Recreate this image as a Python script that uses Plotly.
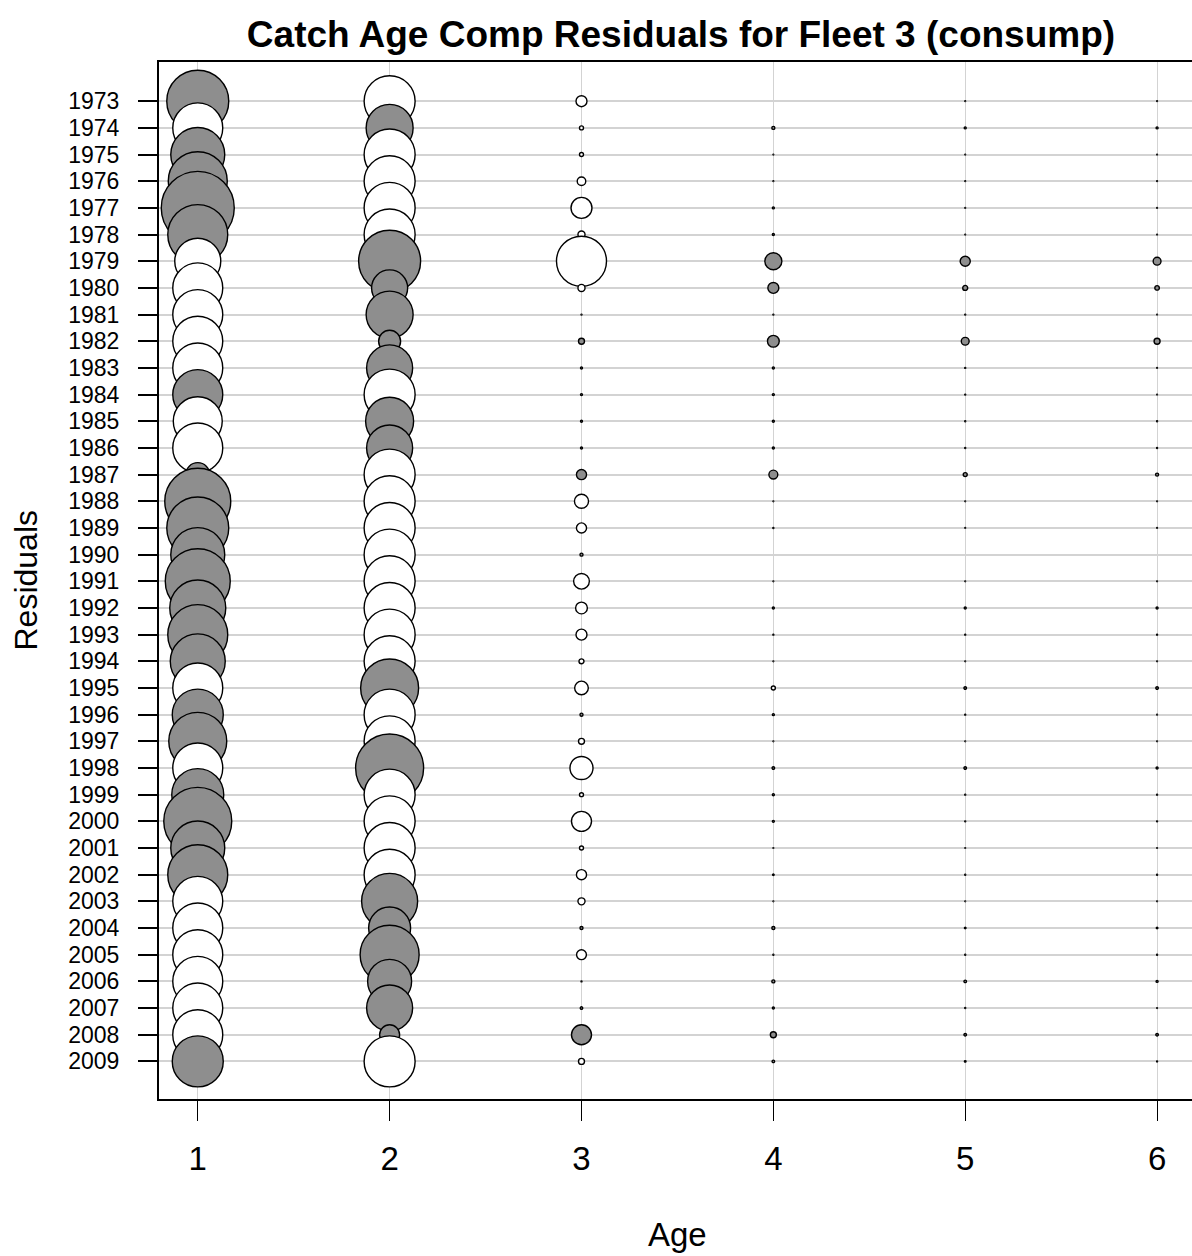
import numpy as np
import plotly.graph_objects as go

# Pearson residuals by year (rows) for each age (positive = grey, negative = white)
years = list(range(1973, 2010))
ages = [1, 2, 3, 4, 5, 6]

resid_age1 = [6.10, -4.00, 4.65, 5.54, 8.42, 5.72, -3.40, -4.00, -4.00, -4.00,
              -4.00, 4.00, -3.84, -4.00, 0.96, 6.90, 6.10, 4.65, 6.70, 5.00,
              5.72, 4.82, -4.00, 4.16, 5.35, -4.00, 4.32, 7.32, 4.65, 5.72,
              -4.00, -4.00, -4.00, -4.00, -4.00, -4.00, 4.16]
resid_age2 = [-4.16, 3.54, -4.16, -4.16, -4.16, -4.16, 6.10, 2.11, 3.54, 0.81,
              3.40, -4.16, 3.69, 3.40, -4.16, -4.16, -4.16, -4.16, -4.16, -4.16,
              -4.16, -4.16, 5.35, -4.16, -4.16, 7.32, -4.16, -4.16, -4.16, -4.16,
              5.00, 2.84, 5.54, 3.11, 3.40, 0.68, -4.16]
resid_age3 = [-0.22, -0.038, -0.038, -0.14, -0.74, -0.10, -4.00, -0.10, -0.006, 0.075,
              0.014, 0.014, 0.014, 0.014, 0.19, -0.35, -0.19, 0.025, -0.43, -0.25,
              -0.22, -0.055, -0.33, 0.025, -0.075, -0.89, -0.038, -0.68, -0.038, -0.19,
              -0.10, 0.025, -0.18, -0.006, 0.019, 0.68, -0.075]
resid_age4 = [0.0, 0.025, 0.0004, -0.0004, 0.014, 0.014, 0.50, 0.22, 0.006, 0.25,
              0.014, 0.014, 0.014, 0.014, 0.15, -0.0035, -0.006, 0.0, -0.0015, 0.014,
              0.006, -0.0015, -0.038, 0.014, -0.0015, 0.019, 0.014, 0.014, -0.0015, 0.010,
              -0.0035, 0.025, 0.006, 0.025, 0.014, 0.075, 0.019]
resid_age5 = [-0.0035, 0.014, 0.0004, 0.0004, 0.0004, 0.0004, 0.19, 0.055, 0.006, 0.12,
              -0.006, 0.006, 0.006, 0.006, 0.038, -0.0015, -0.0035, 0.0, -0.0035, 0.014,
              0.006, -0.0015, 0.019, 0.006, -0.0004, 0.019, 0.006, -0.006, -0.0015, 0.006,
              -0.0035, 0.010, 0.006, 0.019, -0.006, 0.019, 0.010]
resid_age6 = [-0.0035, 0.014, 0.0004, 0.0004, 0.0004, 0.0004, 0.12, 0.047, -0.0035, 0.075,
              -0.0035, 0.0035, -0.006, -0.006, 0.025, -0.0015, -0.0035, 0.0, -0.0035, 0.014,
              0.006, -0.0015, 0.019, 0.0035, -0.0004, 0.014, 0.006, -0.006, -0.0015, 0.006,
              -0.0035, 0.010, 0.006, 0.014, 0.0035, 0.019, 0.006]

resid_by_age = [resid_age1, resid_age2, resid_age3, resid_age4, resid_age5, resid_age6]

POS_FILL = "#8e8e8e"
NEG_FILL = "#ffffff"
SCALE = 25.5      # bubble diameter (px) per sqrt(|residual|)
LINE_W = 1.4

xs, ys, sizes, fills = [], [], [], []
for age, res in zip(ages, resid_by_age):
    r = np.asarray(res, dtype=float)
    d = SCALE * np.sqrt(np.abs(r)) - 1.0
    d = np.where(r == 0, 0.0, np.clip(d, 0.8, None))
    xs.extend([age] * len(years))
    ys.extend(years)
    sizes.extend(d.tolist())
    fills.extend([POS_FILL if v > 0 else NEG_FILL for v in r])

fig = go.Figure(go.Scatter(
    x=xs, y=ys, mode="markers",
    marker=dict(size=sizes, sizemode="diameter", color=fills,
                line=dict(color="black", width=LINE_W), opacity=1),
    hoverinfo="skip", showlegend=False,
))

FONT = "Liberation Sans, Arial, Helvetica, sans-serif"

fig.update_layout(
    width=1192, height=1256,
    margin=dict(l=159, r=0, t=62, b=157),
    paper_bgcolor="white", plot_bgcolor="white",
    font=dict(family=FONT, color="black"),
    title=dict(text="<b>Catch Age Comp Residuals for Fleet 3 (consump)</b>",
               font=dict(size=37, family=FONT, color="black"),
               x=0.5053, xref="paper", xanchor="center",
               y=1 - 34 / 1256, yref="container", yanchor="middle"),
    xaxis=dict(range=[0.798, 6.182], tickvals=ages, ticktext=[str(a) for a in ages],
               showgrid=True, gridcolor="#d3d3d3", gridwidth=1, zeroline=False,
               showline=True, linecolor="black", linewidth=2, mirror=True,
               ticks="outside", ticklen=20, tickwidth=1.2, tickcolor="black",
               tickfont=dict(size=33), ticklabelstandoff=9),
    yaxis=dict(range=[2010.41, 1971.53], tickvals=years, ticktext=[str(y) for y in years],
               showgrid=True, gridcolor="#d3d3d3", gridwidth=2, zeroline=False,
               showline=True, linecolor="black", linewidth=2, mirror=False,
               ticks="outside", ticklen=19, tickwidth=2, tickcolor="black",
               tickfont=dict(size=23), ticklabelstandoff=14),
    annotations=[
        dict(text="Residuals", xref="paper", yref="paper",
             x=(25 - 159) / 1033, y=0.5, xanchor="center", yanchor="middle",
             textangle=-90, showarrow=False, font=dict(size=32)),
        dict(text="Age", xref="paper", yref="paper",
             x=(677 - 159) / 1033, y=(1099 - 1234) / 1037,
             xanchor="center", yanchor="middle", showarrow=False,
             font=dict(size=33)),
    ],
)

fig.write_html("out.html")
